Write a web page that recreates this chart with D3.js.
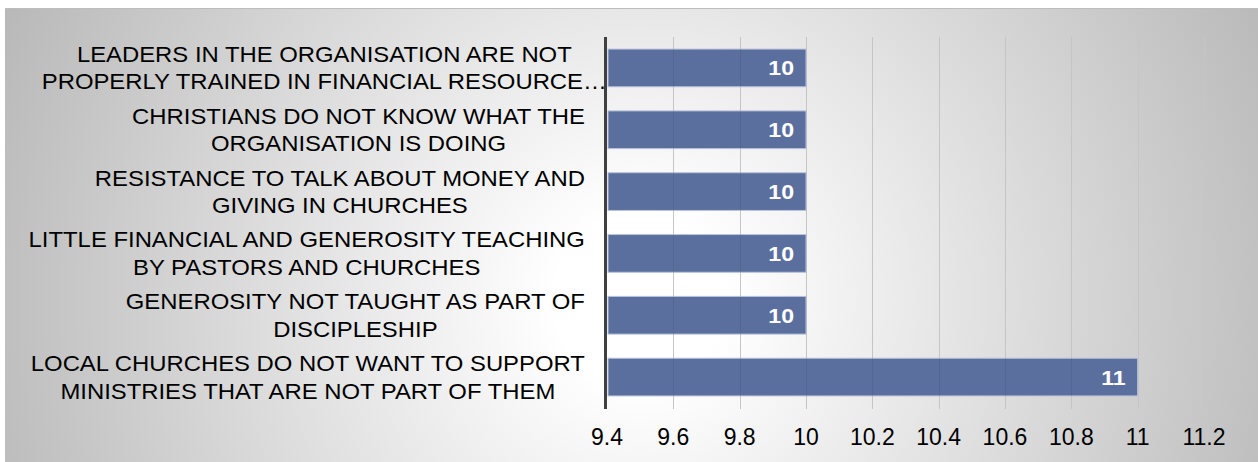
<!DOCTYPE html>
<html><head><meta charset="utf-8">
<script src="https://cdn.jsdelivr.net/npm/d3@7"></script>
<style>
html,body{margin:0;padding:0;background:#fff;}
svg{display:block;font-family:"Liberation Sans",Arial,sans-serif;}
</style></head>
<body>
<svg id="chart" width="1258" height="462"></svg>
<script>
const categories = [
  ["LEADERS IN THE ORGANISATION ARE NOT", "PROPERLY TRAINED IN FINANCIAL RESOURCE\u2026"],
  ["CHRISTIANS DO NOT KNOW WHAT THE", "ORGANISATION IS DOING"],
  ["RESISTANCE TO TALK ABOUT MONEY AND", "GIVING IN CHURCHES"],
  ["LITTLE FINANCIAL AND GENEROSITY TEACHING", "BY PASTORS AND CHURCHES"],
  ["GENEROSITY NOT TAUGHT AS PART OF", "DISCIPLESHIP"],
  ["LOCAL CHURCHES DO NOT WANT TO SUPPORT", "MINISTRIES THAT ARE NOT PART OF THEM"]
];
const values = [10, 10, 10, 10, 10, 11];
const tickValues = [9.4, 9.6, 9.8, 10, 10.2, 10.4, 10.6, 10.8, 11, 11.2];

const svg = d3.select("#chart");
const defs = svg.append("defs");
const grad = defs.append("radialGradient").attr("id","bg")
  .attr("gradientUnits","userSpaceOnUse")
  .attr("cx", 640).attr("cy", 300).attr("r", 700);
grad.append("stop").attr("offset","0%").attr("stop-color","#ffffff");
grad.append("stop").attr("offset","12%").attr("stop-color","#ffffff");
grad.append("stop").attr("offset","100%").attr("stop-color","#b8b8b8");

svg.append("rect").attr("x",5).attr("y",8).attr("width",1253).attr("height",454)
  .attr("fill","url(#bg)");
svg.append("line").attr("x1",5).attr("x2",1258).attr("y1",8.5).attr("y2",8.5)
  .attr("stroke","#bdbdbd").attr("stroke-width",1);

const x = d3.scaleLinear().domain([9.4, 11.2]).range([607, 1204]);
const y = d3.scaleBand().domain(d3.range(categories.length)).range([37, 408])
  .paddingInner(0.39).paddingOuter(0.195);

// gridlines
svg.append("g").selectAll("line").data(tickValues.slice(1)).join("line")
  .attr("x1", d => Math.round(x(d)) + 0.5).attr("x2", d => Math.round(x(d)) + 0.5)
  .attr("y1", 37).attr("y2", 409)
  .attr("stroke", "#d4d4d4").attr("stroke-width", 1);

// bars
svg.append("g").selectAll("rect").data(values).join("rect")
  .attr("x", x(9.4) + 1)
  .attr("y", (d,i) => y(i))
  .attr("width", d => x(d) - x(9.4) - 1)
  .attr("height", y.bandwidth())
  .attr("fill", "#5b6f9f")
  .attr("stroke", "#b9c3dc").attr("stroke-width", 1);

// faint gridlines through bars
svg.append("g").selectAll("line").data(tickValues.slice(1)).join("line")
  .attr("x1", d => Math.round(x(d)) + 0.5).attr("x2", d => Math.round(x(d)) + 0.5)
  .attr("y1", 37).attr("y2", 409)
  .attr("stroke", "rgba(0,0,0,0.07)").attr("stroke-width", 1);

// value labels
svg.append("g").selectAll("text").data(values).join("text")
  .attr("transform", (d,i) => `translate(${x(d) - 12},${y(i) + y.bandwidth()/2}) scale(1.1,1)`)
  .attr("dy", "0.36em")
  .attr("text-anchor", "end")
  .attr("fill", "#ffffff")
  .attr("font-weight", "bold")
  .attr("font-size", "21px")
  .text(d => d);

// axis line
svg.append("line").attr("x1", 605.5).attr("x2", 605.5).attr("y1", 37).attr("y2", 409)
  .attr("stroke", "#404040").attr("stroke-width", 3);

// tick labels
svg.append("g").selectAll("text").data(tickValues).join("text")
  .attr("x", d => x(d)).attr("y", 437).attr("dy","0.36em")
  .attr("text-anchor","middle").attr("font-size","23px").attr("fill","#000")
  .text(d => d);

// category labels
const lineH = 27.5;
const sx = 1.11;
categories.forEach((lines, i) => {
  const cy = y(i) + y.bandwidth()/2;
  const g = svg.append("g");
  const texts = lines.map((t, k) => g.append("text")
    .attr("x", 0)
    .attr("y", (k - (lines.length-1)/2) * lineH)
    .attr("dy","0.36em")
    .attr("text-anchor","middle").attr("font-size","21.5px").attr("fill","#000")
    .text(t));
  const w = d3.max(texts, t => t.node().getComputedTextLength()) * sx;
  const right = i === 0 ? 607 : 585;
  g.attr("transform", `translate(${right - w/2},${cy}) scale(${sx},1)`);
});
</script>
</body></html>
